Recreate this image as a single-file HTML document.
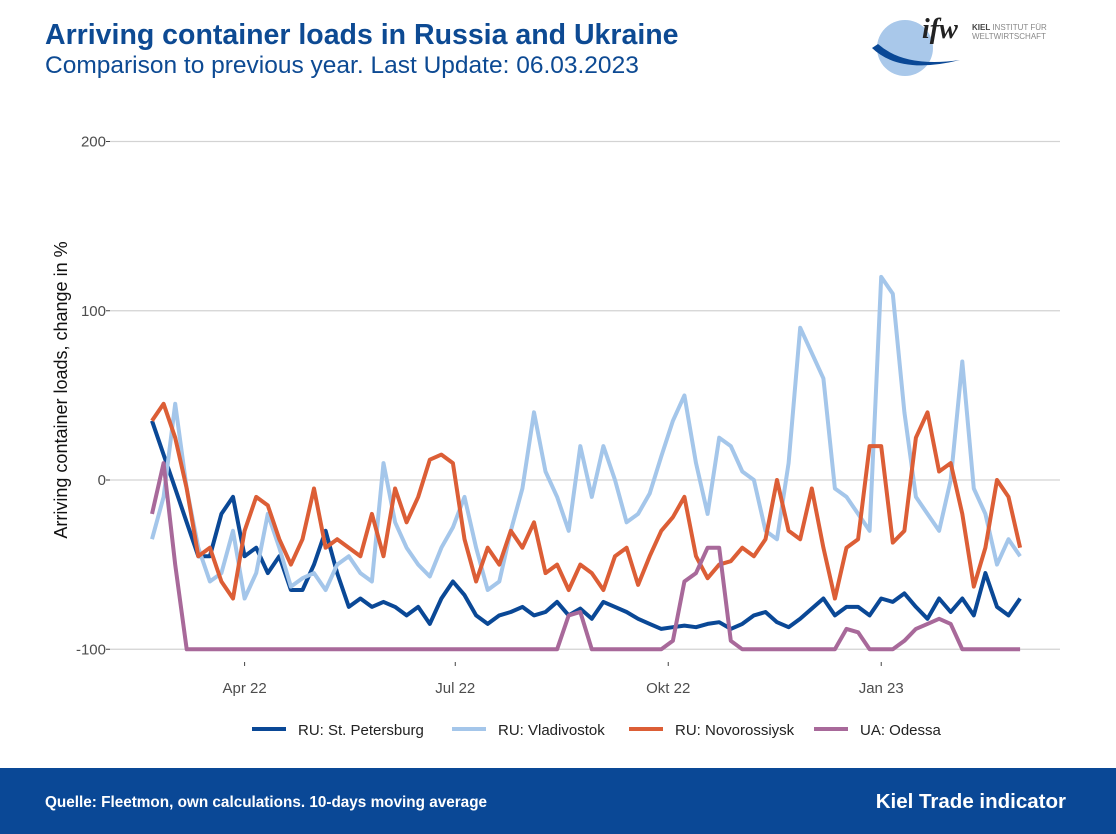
<!DOCTYPE html>
<html><head><meta charset="utf-8">
<style>
body{margin:0;width:1116px;height:834px;background:#fff;font-family:"Liberation Sans",sans-serif;position:relative;overflow:hidden}
#t1{position:absolute;left:45px;top:19px;font-size:28.5px;font-weight:bold;color:#0d4a93}
#t2{position:absolute;left:45px;top:52px;font-size:24.5px;color:#0d4a93}
#footer{position:absolute;left:0;top:768px;width:1116px;height:66px;background:#0a4896}
#src{position:absolute;left:45px;top:26px;color:#fff;font-size:15.3px;font-weight:bold}
#kti{position:absolute;right:50px;top:22px;color:#fff;font-size:20.5px;font-weight:bold}
svg{position:absolute;left:0;top:0}
</style></head><body>
<div id="t1">Arriving container loads in Russia and Ukraine</div>
<div id="t2">Comparison to previous year. Last Update: 06.03.2023</div>
<svg width="1116" height="834" id="chart">
<g>
<circle cx="905" cy="48" r="28" fill="#a9c8ea"/>
<path d="M872 48 Q900 75 960 60 Q905 68 878 44 Z" fill="#0a4896"/>
<text x="922" y="38" font-size="28" font-weight="bold" font-style="italic" fill="#222" font-family="Liberation Serif, serif">ifw</text>
<text x="972" y="30" font-size="8" fill="#444" font-weight="bold">KIEL <tspan font-weight="normal" fill="#888">INSTITUT FÜR</tspan></text>
<text x="972" y="39" font-size="8" fill="#888">WELTWIRTSCHAFT</text>
</g>
<g id="grid"></g><g id="series"></g><g id="legend"></g>
<text transform="translate(67,390) rotate(-90)" text-anchor="middle" font-size="18" fill="#111">Arriving container loads, change in %</text>
</svg>
<div id="footer">
<div id="src">Quelle: Fleetmon, own calculations. 10-days moving average</div>
<div id="kti">Kiel Trade indicator</div>
</div>
<script>
const yTicks=[-100,0,100,200];
const xTickLabels=["Apr 22","Jul 22","Okt 22","Jan 23"];
const xTickDays=[40,131,223,315];
const stepDays=5;
const seriesNames=["RU: St. Petersburg","RU: Vladivostok","RU: Novorossiysk","UA: Odessa"];
const stPetersburg=[35,15,-5,-25,-45,-45,-20,-10,-45,-40,-55,-45,-65,-65,-50,-30,-55,-75,-70,-75,-72,-75,-80,-75,-85,-70,-60,-68,-80,-85,-80,-78,-75,-80,-78,-72,-80,-76,-82,-72,-75,-78,-82,-85,-88,-87,-86,-87,-85,-84,-88,-85,-80,-78,-84,-87,-82,-76,-70,-80,-75,-75,-80,-70,-72,-67,-75,-82,-70,-78,-70,-80,-55,-75,-80,-70];
const vladivostok=[-35,-10,45,-5,-40,-60,-55,-30,-70,-55,-20,-40,-63,-58,-55,-65,-50,-45,-55,-60,10,-25,-40,-50,-57,-40,-28,-10,-40,-65,-60,-30,-5,40,5,-10,-30,20,-10,20,0,-25,-20,-8,14,35,50,10,-20,25,20,5,0,-30,-35,10,90,75,60,-5,-10,-20,-30,120,110,40,-10,-20,-30,0,70,-5,-20,-50,-35,-45];
const novorossiysk=[35,45,25,-5,-45,-40,-60,-70,-30,-10,-15,-35,-50,-35,-5,-40,-35,-40,-45,-20,-45,-5,-25,-10,12,15,10,-35,-60,-40,-50,-30,-40,-25,-55,-50,-65,-50,-55,-65,-45,-40,-62,-45,-30,-22,-10,-45,-58,-50,-48,-40,-45,-35,0,-30,-35,-5,-40,-70,-40,-35,20,20,-37,-30,25,40,5,10,-20,-63,-40,0,-10,-40];
const odessa=[-20,10,-50,-100,-100,-100,-100,-100,-100,-100,-100,-100,-100,-100,-100,-100,-100,-100,-100,-100,-100,-100,-100,-100,-100,-100,-100,-100,-100,-100,-100,-100,-100,-100,-100,-100,-80,-78,-100,-100,-100,-100,-100,-100,-100,-95,-60,-55,-40,-40,-95,-100,-100,-100,-100,-100,-100,-100,-100,-100,-88,-90,-100,-100,-100,-95,-88,-85,-82,-85,-100,-100,-100,-100,-100,-100];
const colors=["#0a4896","#a4c6ea","#dc5e36","#a8699a"];
const NS="http://www.w3.org/2000/svg";
const x0=152,pxDay=2.315,xL=110,xR=1060;
function xs(d){return x0+d*pxDay;}
function ys(v){return 480-v*1.6925;}
const grid=document.getElementById('grid');
yTicks.forEach(t=>{
 const l=document.createElementNS(NS,'line');
 
 
 l.setAttribute('x1',xL);l.setAttribute('x2',xR);l.setAttribute('y1',ys(t));l.setAttribute('y2',ys(t));
 l.setAttribute('stroke','#d3d3d3');l.setAttribute('stroke-width','1.2');grid.appendChild(l);
 const tk=document.createElementNS(NS,'line');
 
 
 tk.setAttribute('x1',xL-4);tk.setAttribute('x2',xL);tk.setAttribute('y1',ys(t));tk.setAttribute('y2',ys(t));
 tk.setAttribute('stroke','#444');grid.appendChild(tk);
 const tx=document.createElementNS(NS,'text');
 
 
 tx.setAttribute('x',xL-4);tx.setAttribute('y',ys(t)+5);tx.setAttribute('text-anchor','end');
 tx.setAttribute('font-size','15');tx.setAttribute('fill','#4d4d4d');tx.textContent=t;grid.appendChild(tx);
});
xTickDays.forEach((d,i)=>{
 const tk=document.createElementNS(NS,'line');
 
 
 tk.setAttribute('x1',xs(d));tk.setAttribute('x2',xs(d));tk.setAttribute('y1',662);tk.setAttribute('y2',666);
 tk.setAttribute('stroke','#444');grid.appendChild(tk);
 const tx=document.createElementNS(NS,'text');
 
 
 tx.setAttribute('x',xs(d));tx.setAttribute('y',693);tx.setAttribute('text-anchor','middle');
 tx.setAttribute('font-size','15');tx.setAttribute('fill','#4d4d4d');tx.textContent=xTickLabels[i];grid.appendChild(tx);
});
const sg=document.getElementById('series');
[stPetersburg,vladivostok,novorossiysk,odessa].forEach((arr,si)=>{
 const p=document.createElementNS(NS,'path');
 
 
 p.setAttribute('d',arr.map((v,i)=>(i?'L':'M')+xs(i*stepDays).toFixed(1)+' '+ys(v).toFixed(1)).join(' '));
 p.setAttribute('fill','none');p.setAttribute('stroke',colors[si]);p.setAttribute('stroke-width','4');
 p.setAttribute('stroke-linejoin','round');sg.appendChild(p);
});
const lg=document.getElementById('legend');
const lx=[252,452,629,814];
seriesNames.forEach((n,i)=>{
 const l=document.createElementNS(NS,'line');
 
 
 l.setAttribute('x1',lx[i]);l.setAttribute('x2',lx[i]+34);l.setAttribute('y1',729);l.setAttribute('y2',729);
 l.setAttribute('stroke',colors[i]);l.setAttribute('stroke-width','4');lg.appendChild(l);
 const t=document.createElementNS(NS,'text');
 
 
 t.setAttribute('x',lx[i]+46);t.setAttribute('y',735);t.setAttribute('font-size','15');t.setAttribute('fill','#222');
 t.textContent=n;lg.appendChild(t);
});
</script>
</body></html>
